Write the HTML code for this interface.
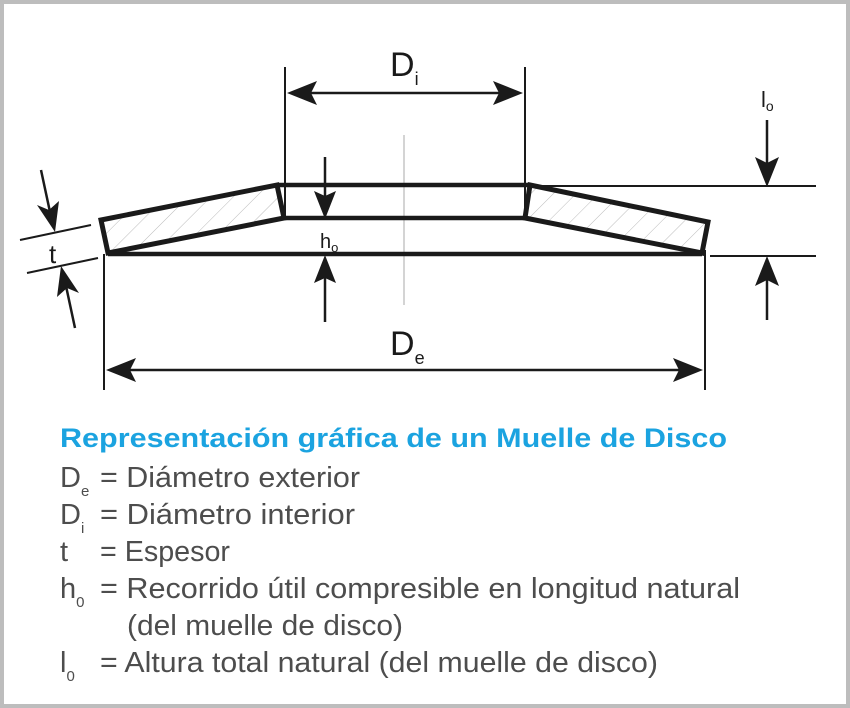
<!DOCTYPE html>
<html><head><meta charset="utf-8"><style>
body{margin:0;width:850px;height:708px;overflow:hidden;background:#fff}
svg{display:block}
text{font-family:"Liberation Sans",sans-serif}
</style></head><body>
<svg width="850" height="708" viewBox="0 0 850 708">
<defs>
<pattern id="h" width="16" height="16" patternUnits="userSpaceOnUse" patternTransform="rotate(45)">
<line x1="0" y1="0" x2="0" y2="16" stroke="#aaa" stroke-width="0.8"/></pattern>
</defs>
<rect x="2" y="2" width="846" height="704" fill="none" stroke="#bdbdbd" stroke-width="4"/>
<line x1="404" y1="135" x2="404" y2="305" stroke="#aaa" stroke-width="1"/>
<polygon points="101,220 277,185 284,218 108,253" fill="url(#h)" stroke="#1a1a1a" stroke-width="5"/>
<polygon points="530,185 708,222 702,253 525,218" fill="url(#h)" stroke="#1a1a1a" stroke-width="5"/>
<g stroke="#1a1a1a" stroke-width="4.5">
<line x1="277" y1="185" x2="530" y2="185"/>
<line x1="284" y1="218" x2="525" y2="218"/>
<line x1="108" y1="254" x2="702" y2="254"/>
</g>
<g stroke="#1a1a1a" stroke-width="2" fill="none">
<line x1="285" y1="67" x2="285" y2="218"/>
<line x1="525" y1="67" x2="525" y2="218"/>
<line x1="530" y1="186" x2="816" y2="186"/>
<line x1="710" y1="256" x2="816" y2="256"/>
<line x1="104" y1="254" x2="104" y2="390"/>
<line x1="705" y1="250" x2="705" y2="390"/>
<line x1="20" y1="240" x2="91" y2="225"/>
<line x1="27" y1="273" x2="98" y2="258"/>
</g>
<g stroke="#1a1a1a" stroke-width="2.5" fill="none">
<line x1="300" y1="93" x2="510" y2="93"/>
<line x1="767" y1="120" x2="767" y2="170"/>
<line x1="767" y1="320" x2="767" y2="270"/>
<line x1="325" y1="157" x2="325" y2="205"/>
<line x1="325" y1="322" x2="325" y2="268"/>
<line x1="120" y1="370" x2="690" y2="370"/>
<line x1="41" y1="170" x2="50" y2="212"/>
<line x1="75" y1="328" x2="66" y2="286"/>
</g>
<g fill="#1a1a1a" stroke="none">
<path d="M767,187 l-12,-30 l12,6 l12,-6z"/>
<path d="M767,256 l-12,30 l12,-6 l12,6z"/>
<path d="M325,219 l-11,-28 l11,5 l11,-5z"/>
<path d="M325,255 l-11,28 l11,-5 l11,5z"/>
<path d="M287,93 l30,-12 l-6,12 l6,12z"/>
<path d="M523,93 l-30,-12 l6,12 l-6,12z"/>
<path d="M106,370 l30,-12 l-6,12 l6,12z"/>
<path d="M703,370 l-30,-12 l6,12 l-6,12z"/>
<path d="M55,232 L37,205 L49,210 L59,201 z"/>
<path d="M61,266 L79,293 L67,288 L57,297 z"/>
</g>
<g fill="#1a1a1a">
<text x="390" y="76" font-size="34">D<tspan font-size="18" dy="9">i</tspan></text>
<text x="390" y="355" font-size="34">D<tspan font-size="18" dy="9">e</tspan></text>
<text x="761" y="107" font-size="22">l<tspan font-size="14" dy="4">o</tspan></text>
<text x="320" y="248" font-size="20">h<tspan font-size="13" dy="4">o</tspan></text>
<text x="49" y="263" font-size="26">t</text>
</g>
<text x="60" y="447" font-size="27" font-weight="bold" fill="#1ba3e0" textLength="667" lengthAdjust="spacingAndGlyphs">Representación gráfica de un Muelle de Disco</text>
<g fill="#4d4d4d" font-size="29">
<text x="60" y="487">D<tspan font-size="15" dy="9">e</tspan></text>
<text x="60" y="524">D<tspan font-size="15" dy="9">i</tspan></text>
<text x="60" y="561">t</text>
<text x="60" y="598">h<tspan font-size="15" dy="9">0</tspan></text>
<text x="60" y="672">l<tspan font-size="15" dy="9">0</tspan></text>
<text x="100" y="487" textLength="260" lengthAdjust="spacingAndGlyphs">= Diámetro exterior</text>
<text x="100" y="524" textLength="255" lengthAdjust="spacingAndGlyphs">= Diámetro interior</text>
<text x="100" y="561" textLength="130" lengthAdjust="spacingAndGlyphs">= Espesor</text>
<text x="100" y="598" textLength="640" lengthAdjust="spacingAndGlyphs">= Recorrido útil compresible en longitud natural</text>
<text x="127" y="635" textLength="276" lengthAdjust="spacingAndGlyphs">(del muelle de disco)</text>
<text x="100" y="672" textLength="558" lengthAdjust="spacingAndGlyphs">= Altura total natural (del muelle de disco)</text>
</g>
</svg>
</body></html>
